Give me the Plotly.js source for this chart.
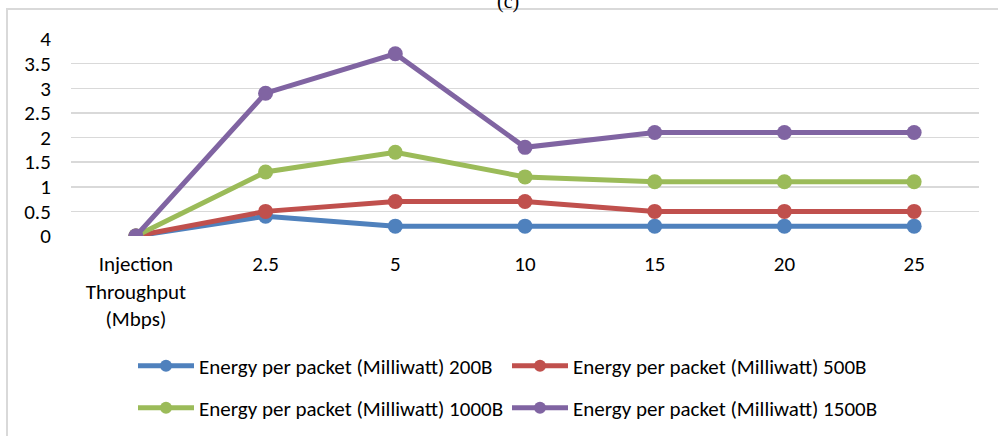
<!DOCTYPE html>
<html>
<head>
<meta charset="utf-8">
<script src="https://cdn.plot.ly/plotly-3.0.1.min.js"></script>
<style>
  html, body { margin: 0; padding: 0; background: #fff; }
  #chart { width: 998px; height: 436px; }
</style>
</head>
<body>
<div id="chart"></div>
<script>
// Injection throughput categories (Mbps)
const categories = ["Injection<br>Throughput<br>(Mbps)", "2.5", "5", "10", "15", "20", "25"];

// Energy per packet (Milliwatt) by packet size
const energy200B  = [0, 0.4, 0.2, 0.2, 0.2, 0.2, 0.2];
const energy500B  = [0, 0.5, 0.7, 0.7, 0.5, 0.5, 0.5];
const energy1000B = [0, 1.3, 1.7, 1.2, 1.1, 1.1, 1.1];
const energy1500B = [0, 2.9, 3.7, 1.8, 2.1, 2.1, 2.1];

const seriesNames = [
  "Energy per packet (Milliwatt) 200B",
  "Energy per packet (Milliwatt) 500B",
  "Energy per packet (Milliwatt) 1000B",
  "Energy per packet (Milliwatt) 1500B"
];

const yTickValues = [0, 0.5, 1, 1.5, 2, 2.5, 3, 3.5, 4];
const yTickLabels = ["0", "0.5", "1", "1.5", "2", "2.5", "3", "3.5", "4"];

const colors = ["#4f81bd", "#c0504d", "#9bbb59", "#8064a2"];
const seriesValues = [energy200B, energy500B, energy1000B, energy1500B];
// two legend rows: first pair on the upper row, second pair below
const legendRows = ["legend", "legend", "legend2", "legend2"];

const FONT = "Carlito, Lato, 'Open Sans', sans-serif";
const FS = 21;

// plot area geometry in pixels
const PL = 71, PR = 979, PT = 39, PB = 236;
const pw = PR - PL, ph = PB - PT;
const px = v => (v - PL) / pw;
const py = v => (PB - v) / ph;

const traces = seriesValues.map((vals, i) => ({
  type: "scatter",
  mode: "lines+markers",
  x: categories,
  y: vals,
  name: seriesNames[i],
  legend: legendRows[i],
  line: { color: colors[i], width: 5 },
  marker: { color: colors[i], size: 15 },
  hoverinfo: "skip"
}));

const legendBase = {
  orientation: "h",
  xanchor: "left",
  yanchor: "middle",
  entrywidth: 303,
  entrywidthmode: "pixels",
  itemwidth: 56,
  itemsizing: "constant",
  font: { family: FONT, size: FS, color: "#000000" },
  bgcolor: "rgba(0,0,0,0)",
  borderwidth: 0
};

const layout = {
  width: 998,
  height: 436,
  margin: { l: PL, r: 998 - PR, t: PT, b: 436 - PB, autoexpand: false },
  paper_bgcolor: "#ffffff",
  plot_bgcolor: "#ffffff",
  font: { family: FONT, size: FS, color: "#000000" },
  showlegend: true,
  xaxis: {
    type: "category",
    range: [-0.5, 6.5],
    showgrid: false,
    zeroline: false,
    showline: false,
    ticks: "outside",
    ticklen: 9,
    tickcolor: "rgba(0,0,0,0)",
    tickfont: { family: FONT, size: FS, color: "#000000" },
    fixedrange: true,
    automargin: false
  },
  yaxis: {
    range: [0, 4],
    tickmode: "array",
    tickvals: yTickValues,
    ticktext: yTickLabels,
    showgrid: true,
    gridcolor: "#d9d9d9",
    gridwidth: 1.5,
    zeroline: false,
    showline: false,
    ticks: "outside",
    ticklen: 15,
    tickcolor: "rgba(0,0,0,0)",
    tickfont: { family: FONT, size: FS, color: "#000000" },
    fixedrange: true,
    automargin: false
  },
  legend: Object.assign({}, legendBase, { x: px(133), y: py(366) }),
  legend2: Object.assign({}, legendBase, { x: px(133), y: py(408) }),
  shapes: [{
    type: "rect",
    xref: "paper", yref: "paper",
    x0: px(7), x1: px(1010),
    y0: py(450), y1: py(9),
    line: { color: "#d9d9d9", width: 2 },
    fillcolor: "rgba(0,0,0,0)",
    layer: "below"
  }],
  annotations: [{
    text: "(c)",
    xref: "paper", yref: "paper",
    x: px(508),
    y: py(1),
    xanchor: "center", yanchor: "middle",
    showarrow: false,
    font: { family: "'Liberation Serif', 'Times New Roman', serif", size: 20, color: "#000000" }
  }]
};

Plotly.newPlot("chart", traces, layout, { displayModeBar: false, staticPlot: true });
</script>
</body>
</html>
